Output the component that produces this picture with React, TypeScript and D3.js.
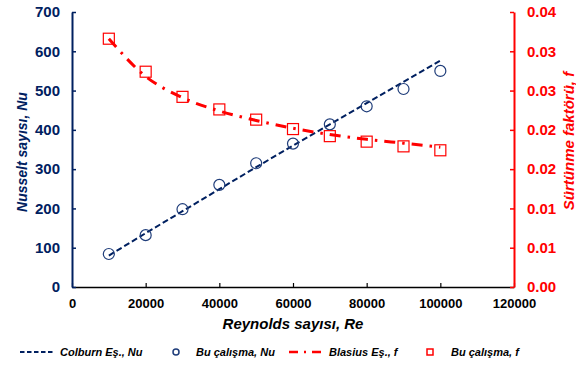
import React, { useEffect, useRef } from 'react';
import * as d3 from 'd3';

// Reynolds numbers
const reynolds = [10000, 20000, 30000, 40000, 50000, 60000, 70000, 80000, 90000, 100000];
// Colburn equation, Nu
const colburnNu = [80, 137, 193, 249, 305, 360, 414, 468, 522, 576];
// This study, Nu
const studyNu = [84, 132, 198, 260, 315, 365, 414, 460, 504, 550];
// Blasius equation, f
const blasiusF = [0.0316, 0.0268, 0.0241, 0.0224, 0.0212, 0.0202, 0.0194, 0.0188, 0.0183, 0.0178];
// This study, f
const studyF = [0.0316, 0.0274, 0.0242, 0.0226, 0.0213, 0.0201, 0.0192, 0.0185, 0.0179, 0.0174];

const xTicks = [0, 20000, 40000, 60000, 80000, 100000, 120000];
const nuTicks = [0, 100, 200, 300, 400, 500, 600, 700];
const fTicks = [0, 0.005, 0.01, 0.015, 0.02, 0.025, 0.03, 0.035];

const App = () => {
  const svgRef = useRef<SVGSVGElement>(null);

  useEffect(() => {
    const svg = d3.select(svgRef.current);
    svg.selectAll('*').remove();

    const W = 576, H = 367;
    const margin = { top: 12, right: 62, bottom: 80, left: 72 };
    const width = W - margin.left - margin.right;
    const height = H - margin.top - margin.bottom;

    const navy = '#002060';
    const red = '#FF0000';
    const font = '"Liberation Sans", Arial, sans-serif';

    svg.attr('width', W).attr('height', H);
    const g = svg.append('g').attr('transform', `translate(${margin.left}, ${margin.top})`);

    const x = d3.scaleLinear().domain([0, 120000]).range([0, width]);
    const yNu = d3.scaleLinear().domain([0, 700]).range([height, 0]);
    const yF = d3.scaleLinear().domain([0, 0.035]).range([height, 0]);

    // Axes
    const xAxis = g.append('g')
      .attr('transform', `translate(0, ${height})`)
      .call(d3.axisBottom(x).tickValues(xTicks).tickSizeInner(-4).tickSizeOuter(0).tickPadding(12).tickFormat(d3.format('d')));
    xAxis.select('.domain').attr('stroke', '#000').attr('stroke-width', 1.5);
    xAxis.selectAll('line').attr('stroke', '#000').attr('stroke-width', 1.2);
    xAxis.selectAll('text').attr('fill', '#000').attr('font-size', 13).attr('font-weight', 'bold').attr('font-family', font);

    const leftAxis = g.append('g')
      .call(d3.axisLeft(yNu).tickValues(nuTicks).tickSizeInner(-4).tickSizeOuter(0).tickPadding(12).tickFormat(d3.format('d')));
    leftAxis.select('.domain').attr('stroke', navy).attr('stroke-width', 2);
    leftAxis.selectAll('line').attr('stroke', navy).attr('stroke-width', 1.5);
    leftAxis.selectAll('text').attr('fill', navy).attr('font-size', 15).attr('font-weight', 'bold').attr('font-family', font);

    const rightAxis = g.append('g')
      .attr('transform', `translate(${width}, 0)`)
      .call(d3.axisRight(yF).tickValues(fTicks).tickSizeInner(-4).tickSizeOuter(0).tickPadding(13)
        .tickFormat(d => (Math.round(+d * 100 + 1e-9) / 100).toFixed(2)));
    rightAxis.select('.domain').attr('stroke', red).attr('stroke-width', 2);
    rightAxis.selectAll('line').attr('stroke', red).attr('stroke-width', 1.5);
    rightAxis.selectAll('text').attr('fill', red).attr('font-size', 15).attr('font-weight', 'bold').attr('font-family', font);

    // Colburn line
    g.append('path')
      .datum(reynolds.map((r, i) => [r, colburnNu[i]]))
      .attr('d', d3.line().x(d => x(d[0])).y(d => yNu(d[1])))
      .attr('fill', 'none')
      .attr('stroke', navy)
      .attr('stroke-width', 2)
      .attr('stroke-dasharray', '6,3');

    // Blasius line
    g.append('path')
      .datum(reynolds.map((r, i) => [r, blasiusF[i]]))
      .attr('d', d3.line().x(d => x(d[0])).y(d => yF(d[1])).curve(d3.curveMonotoneX))
      .attr('fill', 'none')
      .attr('stroke', red)
      .attr('stroke-width', 3)
      .attr('stroke-dasharray', '11,7,2.5,7');

    // Study Nu circles
    g.selectAll('.nu-pt')
      .data(reynolds)
      .enter()
      .append('circle')
      .attr('cx', d => x(d))
      .attr('cy', (d, i) => yNu(studyNu[i]))
      .attr('r', 5.5)
      .attr('fill', 'none')
      .attr('stroke', '#1F3D7A')
      .attr('stroke-width', 1.2);

    // Study f squares
    g.selectAll('.f-pt')
      .data(reynolds)
      .enter()
      .append('rect')
      .attr('x', d => x(d) - 5.5)
      .attr('y', (d, i) => yF(studyF[i]) - 5.5)
      .attr('width', 11)
      .attr('height', 11)
      .attr('fill', 'none')
      .attr('stroke', red)
      .attr('stroke-width', 1.2);

    // Axis titles
    svg.append('text')
      .attr('x', margin.left + width / 2)
      .attr('y', 329)
      .attr('text-anchor', 'middle')
      .attr('font-size', 15)
      .attr('font-weight', 'bold')
      .attr('font-style', 'italic')
      .attr('font-family', font)
      .attr('fill', '#000')
      .text('Reynolds sayısı, Re');

    svg.append('text')
      .attr('transform', `translate(27, ${margin.top + 140}) rotate(-90)`)
      .attr('text-anchor', 'middle')
      .attr('font-size', 14)
      .attr('font-weight', 'bold')
      .attr('font-style', 'italic')
      .attr('font-family', font)
      .attr('fill', navy)
      .text('Nusselt sayısı, Nu');

    svg.append('text')
      .attr('transform', `translate(574, ${margin.top + 129}) rotate(-90)`)
      .attr('text-anchor', 'middle')
      .attr('font-size', 15)
      .attr('font-weight', 'bold')
      .attr('font-style', 'italic')
      .attr('font-family', font)
      .attr('fill', red)
      .text('Sürtünme faktörü, f');

    // Legend
    const ly = 352;
    const legend = svg.append('g').attr('font-family', font).attr('font-size', 11)
      .attr('font-weight', 'bold').attr('font-style', 'italic').attr('fill', '#000');

    legend.append('line').attr('x1', 20).attr('x2', 55).attr('y1', ly).attr('y2', ly)
      .attr('stroke', navy).attr('stroke-width', 2).attr('stroke-dasharray', '4.5,2.5');
    legend.append('text').attr('x', 60).attr('y', ly + 4).text('Colburn Eş., Nu');

    legend.append('circle').attr('cx', 176).attr('cy', ly).attr('r', 3)
      .attr('fill', 'none').attr('stroke', '#1F3D7A').attr('stroke-width', 1.5);
    legend.append('text').attr('x', 196).attr('y', ly + 4).text('Bu çalışma, Nu');

    legend.append('line').attr('x1', 289).attr('x2', 325).attr('y1', ly).attr('y2', ly)
      .attr('stroke', red).attr('stroke-width', 2.5).attr('stroke-dasharray', '9,6,2,6');
    legend.append('text').attr('x', 329).attr('y', ly + 4).text('Blasius Eş., f');

    legend.append('rect').attr('x', 427).attr('y', ly - 3).attr('width', 6).attr('height', 6)
      .attr('fill', 'none').attr('stroke', red).attr('stroke-width', 1.5);
    legend.append('text').attr('x', 451).attr('y', ly + 4).text('Bu çalışma, f');
  }, []);

  return <svg ref={svgRef} style={{ position: 'absolute', left: 0, top: 0 }} />;
};

export default App;
